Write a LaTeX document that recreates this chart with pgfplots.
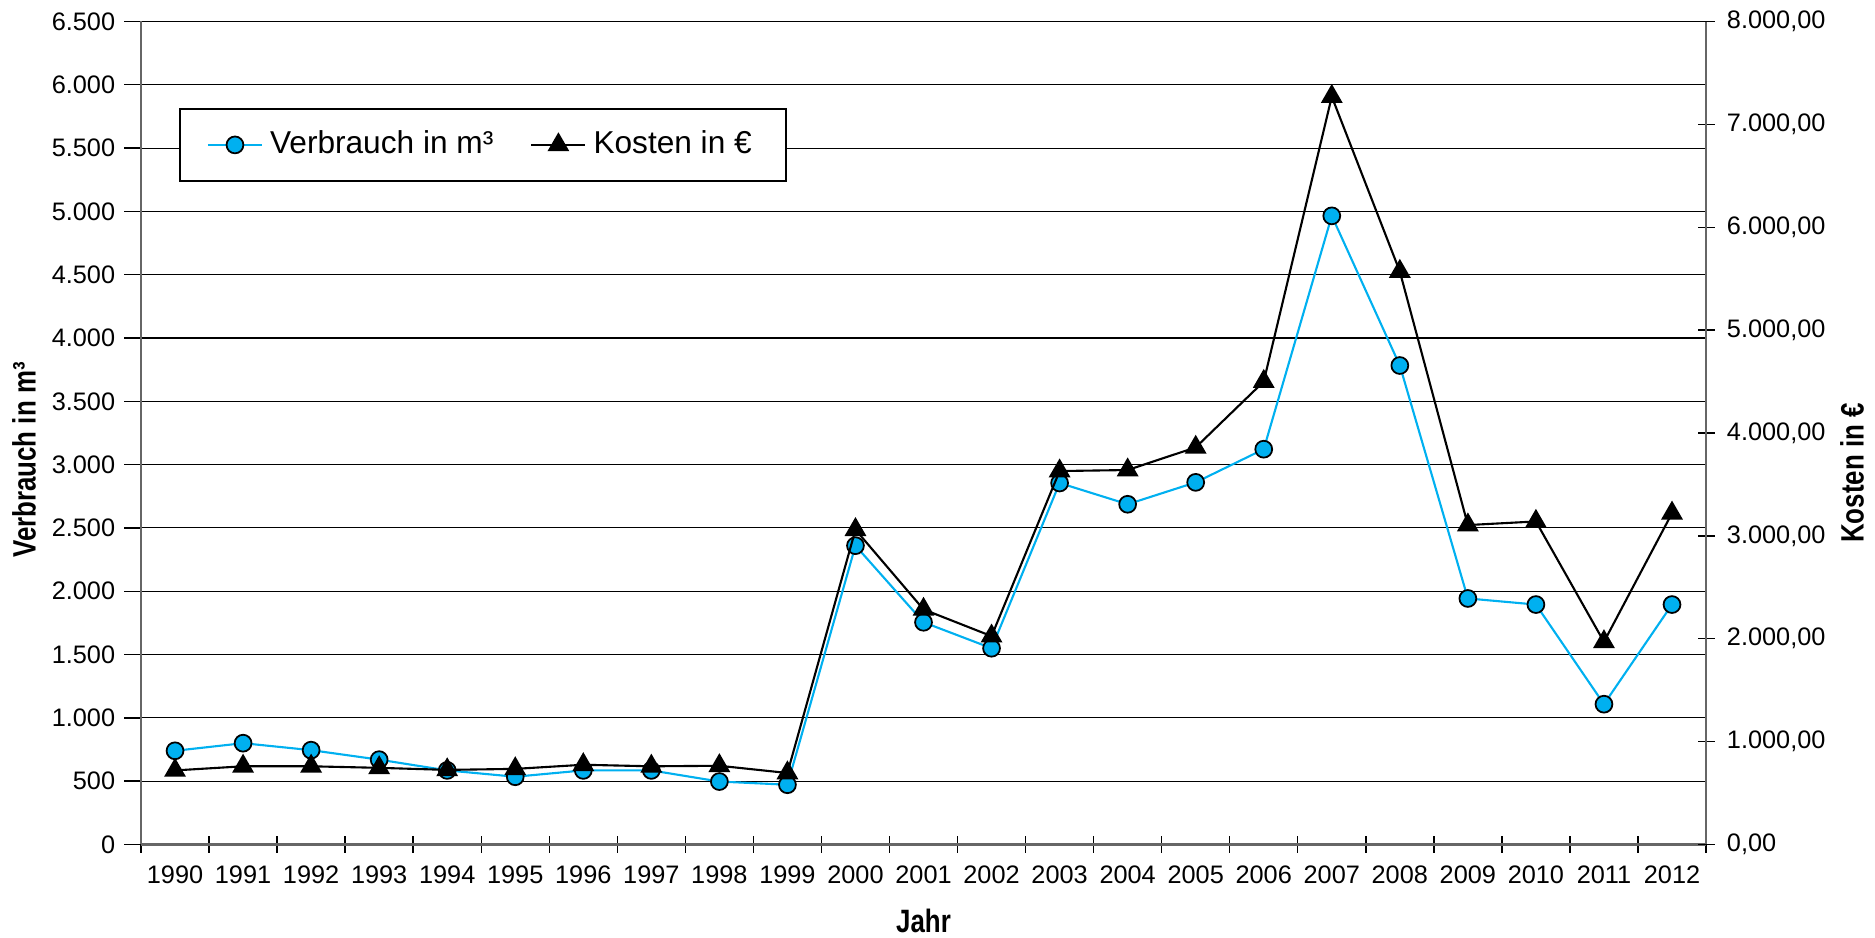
\documentclass[border=0pt]{standalone}
\usepackage{fontspec}
\setmainfont{Liberation Sans}
\newfontfamily\titlefont[FakeStretch=0.8]{Liberation Sans}
\usepackage{pgfplots}
\pgfplotsset{compat=1.18}
\definecolor{verbrauch}{HTML}{00B0F0}

\pgfplotsset{
  chart/.style={
    scale only axis, width=15.65cm, height=8.23cm,
    xmin=1989.5, xmax=2012.5,
    tick label style={font=\fontsize{7.2}{8}\selectfont},
    /pgf/number format/assume math mode=true,
    scaled y ticks=false,
    axis line style={line width=0.7pt, black!60},
    tick style={black, line width=0.4pt},
    tick align=center, major tick length=1.7mm,
  }
}

\begin{document}
\begin{tikzpicture}
\begin{axis}[chart, name=main,
  axis x line*=bottom, axis y line*=left,
  ymin=0, ymax=6500, ytick={0,500,...,6500},
  ymajorgrids, grid style={black, line width=0.3pt},
  ytick style={xshift=-0.85mm},
  y tick label style={xshift=-0.5mm, /pgf/number format/.cd, use comma, 1000 sep={.}},
  xtick={1989.5,1990.5,...,2012.5},
  x tick label as interval,
  xticklabels={1990,1991,1992,1993,1994,1995,1996,1997,1998,1999,2000,2001,
    2002,2003,2004,2005,2006,2007,2008,2009,2010,2011,2012},
]
\addplot[verbrauch, line width=0.6pt, mark=*, mark size=2.4pt,
  mark options={fill=verbrauch, draw=black, line width=0.5pt}]
  coordinates {
  (1990,740) (1991,800) (1992,745) (1993,670) (1994,585) (1995,535)
  (1996,585) (1997,585) (1998,497) (1999,472) (2000,2360) (2001,1755)
  (2002,1550) (2003,2855) (2004,2687) (2005,2860) (2006,3122) (2007,4965)
  (2008,3783) (2009,1943) (2010,1895) (2011,1108) (2012,1895)
  };
\end{axis}

\begin{axis}[chart,
  axis x line=none, axis y line*=right,
  ymin=0, ymax=8000, ytick={0,1000,...,8000},
  y tick label style={/pgf/number format/.cd, fixed, fixed zerofill,
    precision=2, use comma, 1000 sep={.}},
  legend columns=2,
  legend style={at={(rel axis cs:0.0243,0.895)}, anchor=north west,
    draw=black, line width=0.5pt, fill=white,
    font=\fontsize{9}{10.5}\selectfont,
    inner xsep=2.7mm, inner ysep=1.5mm,
    /tikz/every even column/.append style={column sep=3mm}},
  legend image code/.code={\draw[mark repeat=2,mark phase=2]
    plot coordinates {(0cm,0cm) (0.27cm,0cm) (0.54cm,0cm)};},
]
\addlegendimage{verbrauch, line width=0.6pt, mark=*, mark size=2.4pt,
  mark options={fill=verbrauch, draw=black, line width=0.5pt}}
\addlegendentry{Verbrauch in m³}
\addplot[black, line width=0.6pt, mark=triangle*, mark size=3pt,
  mark options={fill=black}]
  coordinates {
  (1990,720) (1991,760) (1992,760) (1993,745) (1994,725) (1995,735)
  (1996,775) (1997,760) (1998,765) (1999,695) (2000,3060) (2001,2285)
  (2002,2025) (2003,3630) (2004,3640) (2005,3860) (2006,4500) (2007,7270)
  (2008,5570) (2009,3105) (2010,3140) (2011,1970) (2012,3220)
  };
\addlegendentry{Kosten in €}
\end{axis}

\node[rotate=90, font=\titlefont\bfseries\fontsize{9.2}{11}\selectfont]
  at ([xshift=-11.7mm,yshift=-2.7mm]main.west) {Verbrauch in m³};
\node[rotate=90, font=\titlefont\bfseries\fontsize{9.2}{11}\selectfont]
  at ([xshift=14.6mm,yshift=-4mm]main.east) {Kosten in €};
\node[font=\titlefont\bfseries\fontsize{9.2}{11}\selectfont]
  at ([yshift=-7.6mm]main.south) {Jahr};

\pgfresetboundingbox
\path ([shift={(-14.1mm,-9.3mm)}]main.south west)
  rectangle ([shift={(16.9mm,2.15mm)}]main.north east);
\end{tikzpicture}
\end{document}
